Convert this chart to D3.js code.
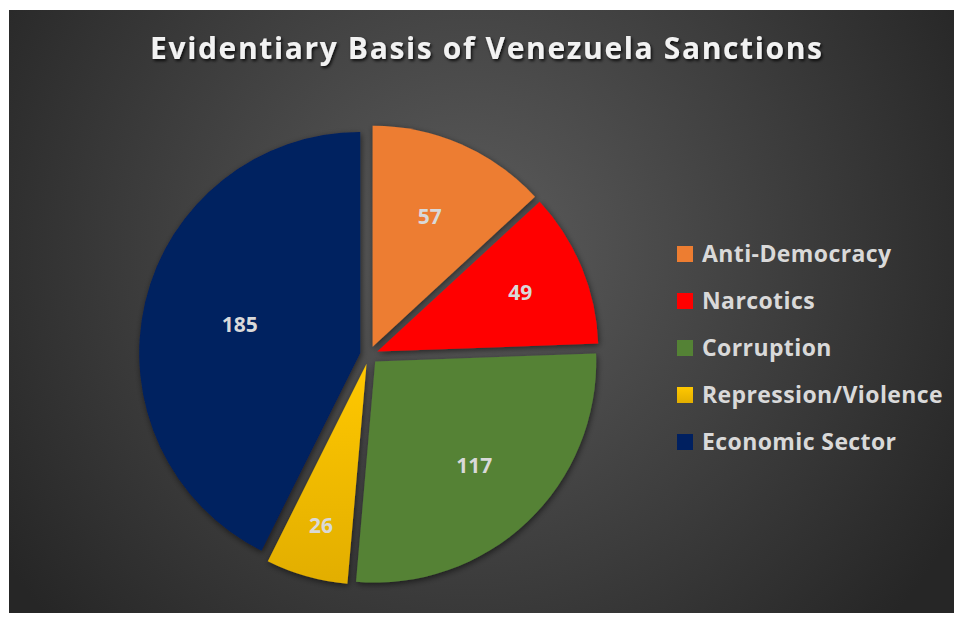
<!DOCTYPE html>
<html><head><meta charset="utf-8">
<script src="https://cdn.jsdelivr.net/npm/d3@7/dist/d3.min.js"></script>
<style>
html,body{margin:0;padding:0;background:#fff;}
svg{display:block;}
</style></head>
<body>
<svg id="chart" width="954" height="617"></svg>
<script>
const categories = ["Anti-Democracy","Narcotics","Corruption","Repression/Violence","Economic Sector"];
const values = [57,49,117,26,185];
const colors = ["#ED7D31","#FF0000","#548235","#FFC000","#002060"];
const titleText = "Evidentiary Basis of Venezuela Sanctions";
const labelDist = [0.645,0.70,0.65,0.76,0.56];

const svg = d3.select("#chart");
const defs = svg.append("defs");

const bg = defs.append("radialGradient").attr("id","bg")
  .attr("gradientUnits","userSpaceOnUse").attr("cx",470).attr("cy",250).attr("r",560);
bg.append("stop").attr("offset","0%").attr("stop-color","#5c5c5c");
bg.append("stop").attr("offset","100%").attr("stop-color","#262626");

const yg = defs.append("linearGradient").attr("id","yg").attr("x1",0).attr("y1",0).attr("x2",0).attr("y2",1);
yg.append("stop").attr("offset","0%").attr("stop-color","#FFC800");
yg.append("stop").attr("offset","100%").attr("stop-color","#E2AE00");

const sh = defs.append("filter").attr("id","sh").attr("x","-20%").attr("y","-20%").attr("width","140%").attr("height","140%");
sh.append("feDropShadow").attr("dx",1).attr("dy",2).attr("stdDeviation",3).attr("flood-color","#000").attr("flood-opacity",0.55);
const tsh = defs.append("filter").attr("id","tsh").attr("x","-10%").attr("y","-30%").attr("width","120%").attr("height","160%");
tsh.append("feDropShadow").attr("dx",1.5).attr("dy",2).attr("stdDeviation",1.5).attr("flood-color","#000").attr("flood-opacity",0.8);

svg.append("rect").attr("x",9).attr("y",10).attr("width",945).attr("height",603).attr("fill","url(#bg)");

svg.append("text").attr("x",486).attr("y",59).attr("text-anchor","middle")
  .attr("font-family","Open Sans").attr("font-weight","bold").attr("font-size",30)
  .attr("fill","#F2F2F2").attr("textLength",672).attr("lengthAdjust","spacing")
  .attr("filter","url(#tsh)").text(titleText);

const cx = 369, cy = 355, r = 221, explode = 9;
const pie = d3.pie().sort(null).value(d=>d)(values);
const arc = d3.arc().innerRadius(0).outerRadius(r);
const g = svg.append("g").attr("transform",`translate(${cx},${cy})`);

pie.forEach((p,i)=>{
  const mid = (p.startAngle+p.endAngle)/2;
  const ox = explode*Math.sin(mid), oy = -explode*Math.cos(mid);
  g.append("path").attr("d",arc(p)).attr("transform",`translate(${ox},${oy})`)
    .attr("fill", i===3 ? "url(#yg)" : colors[i]).attr("filter","url(#sh)");
});
pie.forEach((p,i)=>{
  const mid = (p.startAngle+p.endAngle)/2;
  const d = r*labelDist[i] + explode;
  g.append("text").attr("x",d*Math.sin(mid)).attr("y",-d*Math.cos(mid)).attr("dy","0.36em")
    .attr("text-anchor","middle").attr("font-family","Open Sans").attr("font-weight","bold")
    .attr("font-size",21).attr("fill","#D9D9D9").text(values[i]);
});

const lg = svg.append("g");
categories.forEach((c,i)=>{
  const y = 254 + i*47;
  lg.append("rect").attr("x",677).attr("y",y-8).attr("width",16).attr("height",16)
    .attr("fill", i===3 ? "url(#yg)" : colors[i]);
  lg.append("text").attr("x",702).attr("y",y).attr("dy","0.36em")
    .attr("font-family","Open Sans").attr("font-weight","bold").attr("font-size",23)
    .attr("letter-spacing",0.4).attr("fill","#D9D9D9").text(c);
});
</script>
</body></html>
